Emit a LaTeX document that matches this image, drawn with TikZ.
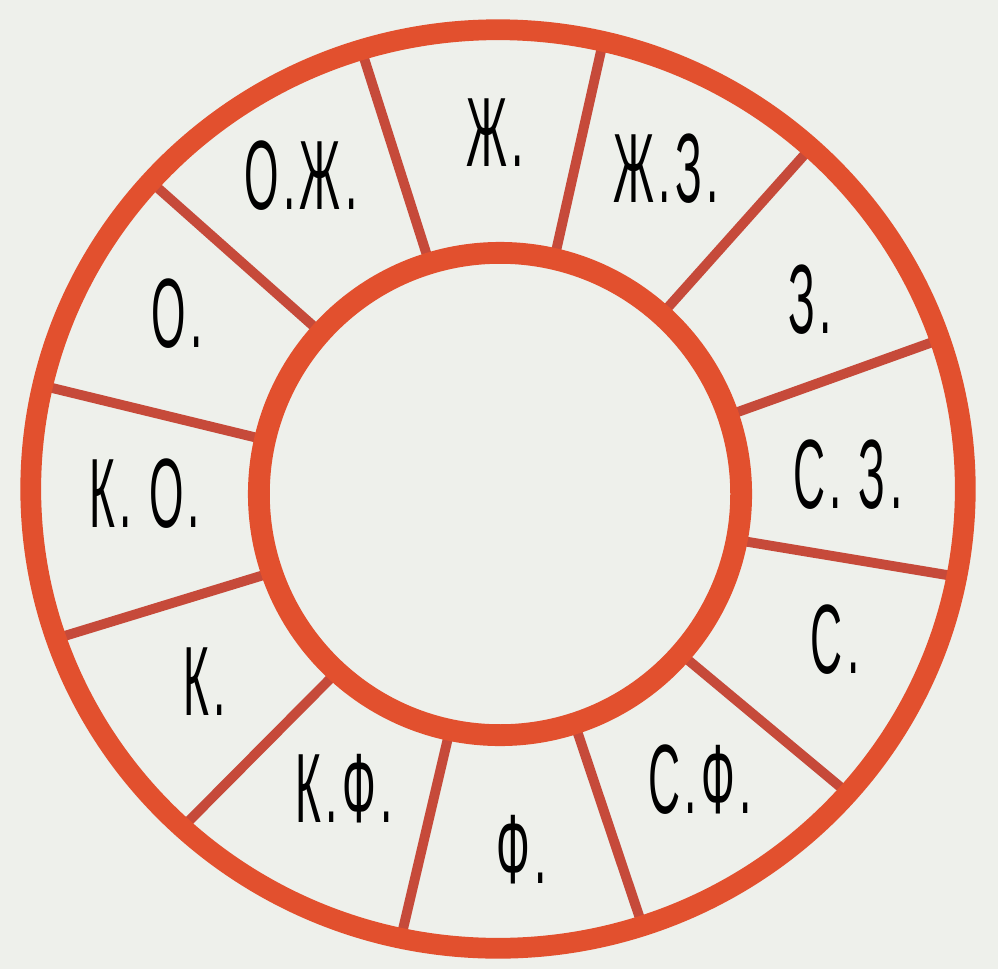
\documentclass[tikz,border=0pt]{standalone}
\usepackage{fontspec}
\usepackage{graphicx}
\usetikzlibrary{calc}
\setmainfont{Liberation Sans}
\newfontfamily\lblfont{Liberation Sans}[LetterSpace=10]
\definecolor{ringred}{RGB}{226,80,46}
\definecolor{spokered}{RGB}{198,74,58}
\definecolor{paper}{RGB}{238,240,235}
\newcommand{\narrow}[1]{\scalebox{0.45}[1]{#1}}

\begin{document}
\begin{tikzpicture}[x=0.01cm,y=0.01cm,
  lbl/.style={text=black,inner sep=0pt,anchor=base,font=\lblfont\fontsize{28}{30}\selectfont}]
\fill [paper] (0,0) rectangle (998,969);
\useasboundingbox (0,0) rectangle (998,969);
\coordinate (ci) at (500,475);
\coordinate (co) at (498,480);
% spokes between the two rings
\foreach \a in {107,77,48,19,-11,-41.5,-72,-102,-132.5,-161,167,138}
  \draw [spokered,line width=2.8pt] ($(ci)+(\a:2.41cm)$) -- ($(co)+(\a:4.67cm and 4.59cm)$);
\draw [ringred,line width=5.9pt] (co) ellipse [x radius=4.67cm,y radius=4.59cm];
\draw [ringred,line width=6.2pt] (ci) circle [radius=2.41cm];
% segment labels
\node[lbl] (oz) at (301,759) {\narrow{О.Ж.}};
\node[lbl] (z) at (495,802) {\narrow{Ж.}};
\node[lbl] (zs) at (666,767) {\narrow{Ж.З.}};
\node[lbl] (s) at (810,636) {\narrow{З.}};
\node[lbl] (cs) at (848,461) {\narrow{С. З.}};
\node[lbl] (c) at (835,296) {\narrow{С.}};
\node[lbl] (cf) at (700,156) {\narrow{С.Ф.}};
\node[lbl] (f) at (522,86) {\narrow{Ф.}};
\node[lbl] (kf) at (344,147) {\narrow{К.Ф.}};
\node[lbl] (k) at (205,254) {\narrow{К.}};
\node[lbl] (ko) at (145,442) {\narrow{К. О.}};
\node[lbl] (o) at (177,622) {\narrow{О.}};
\end{tikzpicture}
\end{document}
